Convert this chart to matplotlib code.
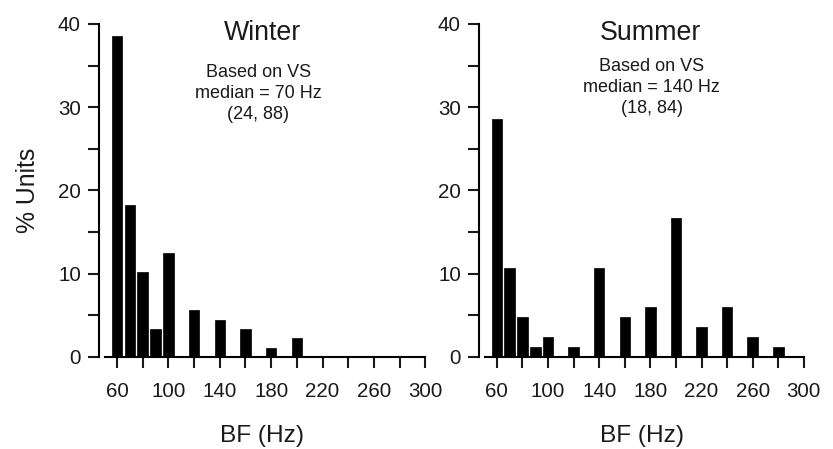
import matplotlib
matplotlib.use("Agg")
import matplotlib.pyplot as plt
import numpy as np

plt.rcParams['font.family'] = ['Liberation Sans', 'DejaVu Sans']

winter_bf = [60, 70, 80, 90, 100, 120, 140, 160, 180, 200]
winter_pct = [38.6, 18.2, 10.2, 3.4, 12.5, 5.7, 4.5, 3.4, 1.1, 2.3]
summer_bf = [60, 70, 80, 90, 100, 120, 140, 160, 180, 200, 220, 240, 260, 280]
summer_pct = [28.6, 10.7, 4.8, 1.2, 2.4, 1.2, 10.7, 4.8, 5.95, 16.7, 3.6, 5.95, 2.4, 1.2]

titles = ["Winter", "Summer"]
notes = ["Based on VS\nmedian = 70 Hz\n(24, 88)", "Based on VS\nmedian = 140 Hz\n(18, 84)"]

fig = plt.figure(figsize=(8.33, 4.49), dpi=100)
ax1 = fig.add_axes([99/833, 1-357/449, (426-99)/833, 333/449])
ax2 = fig.add_axes([479/833, 1-357/449, (804.5-479)/833, 333/449])

tc = '#1a1a1a'
panels = [(ax1, winter_bf, winter_pct, 0.5, 0.487, 0.792),
          (ax2, summer_bf, summer_pct, 0.526, 0.531, 0.809)]
for i, (ax, xs, ys, tx, nx, ny) in enumerate(panels):
    ax.bar(xs, ys, width=8.2, color='black', edgecolor='black', linewidth=0.5, align='center')
    ax.set_xlim(46, 300.5)
    ax.set_ylim(0, 40)
    for s in ['top', 'right']:
        ax.spines[s].set_visible(False)
    ax.spines['left'].set_linewidth(1.5)
    ax.spines['bottom'].set_linewidth(1.5)
    ax.spines['bottom'].set_bounds(50.5, 300)
    ax.spines['left'].set_bounds(0, 40)
    ax.set_xticks(np.arange(60, 301, 20))
    ax.set_xticklabels([str(v) if (v - 60) % 40 == 0 else '' for v in range(60, 301, 20)])
    ax.set_yticks(np.arange(0, 41, 5))
    ax.set_yticklabels([str(v) if v % 10 == 0 else '' for v in range(0, 41, 5)])
    ax.tick_params(axis='both', direction='out', length=8, width=1.5, labelsize=14.8, colors=tc, labelcolor=tc)
    ax.tick_params(axis='x', pad=10)
    ax.tick_params(axis='y', pad=5)
    ax.set_xlabel("BF (Hz)", fontsize=17.6, color=tc, labelpad=17)
    ax.text(tx, 0.972, titles[i], transform=ax.transAxes, ha='center', va='center', fontsize=19.3, color=tc)
    ax.text(nx, ny, notes[i], transform=ax.transAxes, ha='center', va='center', fontsize=13, color=tc, linespacing=1.3)

ax1.set_ylabel("% Units", fontsize=17.8, color=tc, labelpad=13)

fig.savefig("out.png", dpi=100)
